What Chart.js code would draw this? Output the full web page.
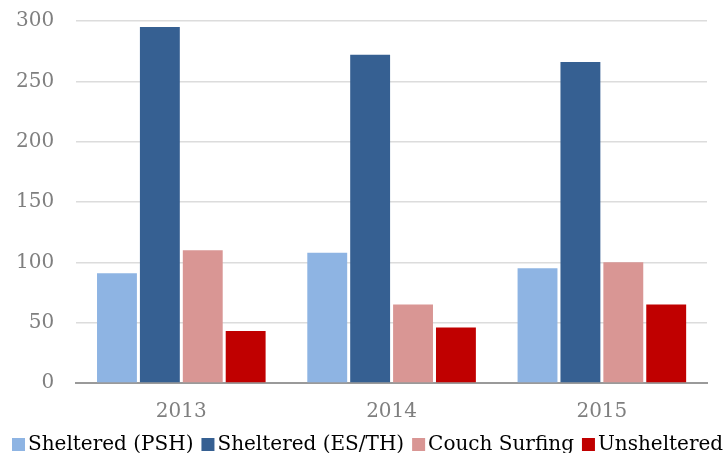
<!DOCTYPE html>
<html>
<head>
<meta charset="utf-8">
<script src="https://cdn.jsdelivr.net/npm/chart.js@4"></script>
<style>
  html, body { margin: 0; padding: 0; background: #fff; }
  #wrap { width: 726px; height: 453px; }
</style>
</head>
<body>
<div id="wrap"><canvas id="chart"></canvas></div>
<script>
var years = ['2013', '2014', '2015'];
var shelteredPSH = [91, 108, 95];
var shelteredESTH = [295, 272, 266];
var couchSurfing = [110, 65, 100];
var unsheltered = [43, 46, 65];

var serif = '"DejaVu Serif", "Liberation Serif", serif';

// legend drawn left-aligned, box close to the text, like the original
var bottomLegend = {
    id: 'bottomLegend',
    afterDraw: function(chart) {
        var c = chart.ctx;
        var x = 12;
        var y = chart.height - 4;
        c.save();
        c.font = '20px ' + serif;
        c.textBaseline = 'alphabetic';
        chart.data.datasets.forEach(function(ds) {
            c.fillStyle = ds.backgroundColor;
            c.fillRect(x, y - 11, 13, 13);
            x += 16;
            c.fillStyle = '#000';
            c.fillText(ds.label, x, y + 1);
            x += c.measureText(ds.label).width + 8;
        });
        c.restore();
    }
};

var ctx = document.getElementById('chart').getContext('2d');
var chart = new Chart(ctx, {
    type: 'bar',
    data: {
        labels: years,
        datasets: [
            { label: 'Sheltered (PSH)', backgroundColor: '#8eb4e3', data: shelteredPSH },
            { label: 'Sheltered (ES/TH)', backgroundColor: '#366092', data: shelteredESTH },
            { label: 'Couch Surfing', backgroundColor: '#d99694', data: couchSurfing },
            { label: 'Unsheltered', backgroundColor: '#c00000', data: unsheltered }
        ]
    },
    plugins: [bottomLegend],
    options: {
        responsive: true,
        maintainAspectRatio: false,
        animation: false,
        layout: { padding: { left: -6, right: 19, top: 21, bottom: 12 } },
        datasets: { bar: { barPercentage: 0.93, categoryPercentage: 0.816 } },
        plugins: {
            tooltip: { enabled: false },
            legend: { display: false }
        },
        scales: {
            x: {
                grid: { display: false, drawTicks: false },
                border: { color: '#9a9a9a', width: 2 },
                ticks: { color: '#7f7f7f', padding: 17, font: { family: serif, size: 20 } }
            },
            y: {
                min: 0,
                max: 300,
                afterFit: function(scale) { scale.paddingTop = 0; },
                grid: { color: '#dcdcdc', lineWidth: 1.5, drawTicks: false },
                border: { display: false },
                ticks: { stepSize: 50, color: '#7f7f7f', padding: 22, font: { family: serif, size: 20 } }
            }
        }
    }
});
</script>
</body>
</html>
